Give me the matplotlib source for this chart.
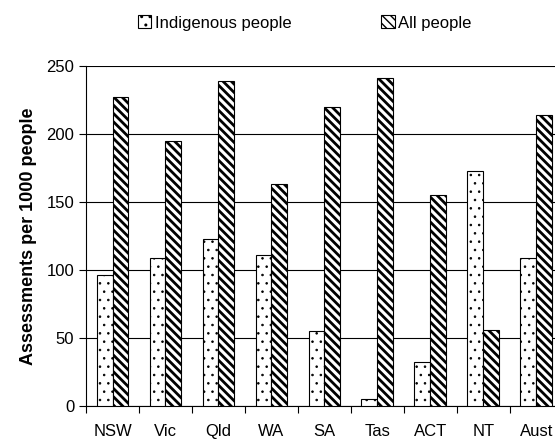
import matplotlib.pyplot as plt
import numpy as np

plt.rcParams['font.family'] = ['Liberation Sans', 'DejaVu Sans']

regions = ['NSW', 'Vic', 'Qld', 'WA', 'SA', 'Tas', 'ACT', 'NT', 'Aust']
indigenous = [96, 109, 123, 111, 55, 5, 32, 173, 109]
all_people = [227, 195, 239, 163, 220, 241, 155, 56, 214]
y_ticks = [0, 50, 100, 150, 200, 250]

fig = plt.figure(figsize=(5.55, 4.41), dpi=100)
ax = fig.add_axes([0.155, 0.0794, 0.859, 0.771])

x = np.arange(len(regions))
w = 0.3
b1 = ax.bar(x - w / 2, indigenous, w, color='white', edgecolor='black',
            linewidth=0.8, hatch='..', label='Indigenous people', zorder=3)
b2 = ax.bar(x + w / 2, all_people, w, color='white', edgecolor='black',
            linewidth=0.8, hatch='\\\\\\\\', label='All people', zorder=3)
for p in b1:
    p.set_hatch_linewidth(0.6)
for p in b2:
    p.set_hatch_linewidth(2.0)

ax.set_xlim(-0.5, len(regions) - 0.5)
ax.set_ylim(0, 250)
ax.set_yticks(y_ticks)
ax.yaxis.grid(True, color='black', linewidth=0.8, zorder=0)
ax.set_axisbelow(True)

ax.set_xticks(x)
ax.set_xticklabels(regions)
ax.set_xticks(np.arange(len(regions) + 1) - 0.5, minor=True)
ax.tick_params(axis='x', which='major', length=0, labelsize=12, pad=13)
ax.tick_params(axis='x', which='minor', length=5, width=0.8, direction='out')
ax.tick_params(axis='y', labelsize=12, length=5, width=0.8)

ax.spines['top'].set_visible(False)
ax.spines['right'].set_visible(False)
ax.spines['left'].set_linewidth(0.8)
ax.spines['bottom'].set_linewidth(0.8)

ax.set_ylabel('Assessments per 1000 people', fontsize=13, weight='bold', labelpad=7)

leg = fig.legend(loc='center', bbox_to_anchor=(0.549, 0.948), ncol=2, frameon=False,
                 fontsize=12, handlelength=0.8, handleheight=0.8, handletextpad=0.2,
                 columnspacing=5.4)

plt.savefig('out.png', dpi=100, facecolor='white')
